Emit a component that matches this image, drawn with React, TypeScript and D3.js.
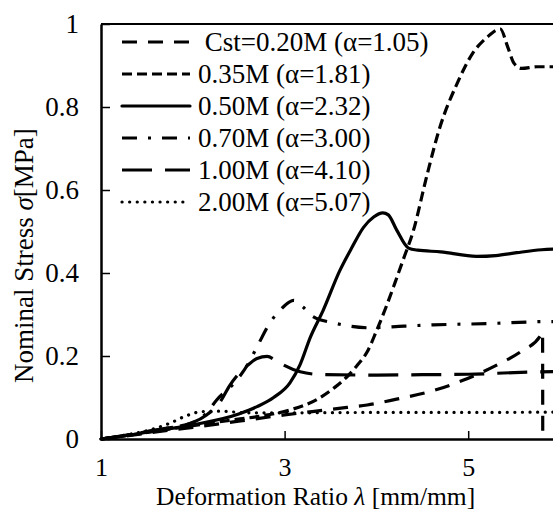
import React, { useRef, useEffect } from "react";
import * as d3 from "d3";

// nominal stress [MPa] vs deformation ratio, one list of [λ, σ] per concentration
const c020 = [[1, 0], [1.3, 0.008], [1.6, 0.017], [2, 0.028], [2.5, 0.043], [3.0, 0.058], [3.3, 0.066], [3.68, 0.076], [3.9, 0.082], [4.22, 0.096], [4.58, 0.114], [4.95, 0.142], [5.31, 0.178], [5.57, 0.21], [5.79, 0.25], [5.81, 0.258], [5.812, 0]];
const c035 = [[1, 0], [1.3, 0.009], [1.6, 0.019], [2, 0.032], [2.4, 0.045], [2.7, 0.054], [3.06, 0.07], [3.35, 0.095], [3.55, 0.125], [3.68, 0.15], [3.8, 0.18], [3.9, 0.21], [4.0, 0.26], [4.1, 0.315], [4.2, 0.375], [4.3, 0.437], [4.4, 0.5], [4.55, 0.635], [4.69, 0.75], [4.88, 0.857], [5.05, 0.93], [5.2, 0.967], [5.35, 0.988], [5.43, 0.945], [5.5, 0.905], [5.58, 0.893], [5.75, 0.897], [6, 0.897]];
const c050 = [[1, 0], [1.3, 0.009], [1.6, 0.02], [2, 0.034], [2.5, 0.06], [2.7, 0.078], [2.88, 0.1], [3.06, 0.136], [3.17, 0.18], [3.28, 0.245], [3.42, 0.31], [3.6, 0.405], [3.73, 0.46], [3.86, 0.51], [3.97, 0.535], [4.07, 0.545], [4.13, 0.54], [4.22, 0.504], [4.35, 0.46], [4.45, 0.455], [4.7, 0.451], [5.09, 0.44], [5.3, 0.442], [5.53, 0.449], [5.8, 0.456], [6, 0.458]];
const c070 = [[1, 0], [1.3, 0.01], [1.6, 0.022], [2, 0.04], [2.13, 0.058], [2.26, 0.094], [2.48, 0.142], [2.6, 0.18], [2.7, 0.222], [2.84, 0.28], [2.95, 0.31], [3.05, 0.33], [3.1, 0.334], [3.2, 0.318], [3.31, 0.295], [3.53, 0.28], [3.93, 0.268], [4.3, 0.272], [4.62, 0.275], [5.2, 0.278], [5.89, 0.283], [6, 0.283]];
const c100 = [[1, 0], [1.3, 0.01], [1.6, 0.022], [2, 0.04], [2.15, 0.058], [2.3, 0.09], [2.4, 0.128], [2.5, 0.157], [2.6, 0.178], [2.7, 0.194], [2.81, 0.199], [2.9, 0.19], [2.99, 0.178], [3.17, 0.162], [3.42, 0.155], [4, 0.154], [4.5, 0.155], [5, 0.156], [5.5, 0.16], [6, 0.163]];
const c200 = [[1, 0], [1.3, 0.011], [1.5, 0.02], [1.75, 0.038], [1.93, 0.056], [2.1, 0.066], [2.3, 0.067], [2.6, 0.063], [3, 0.063], [4, 0.064], [5, 0.064], [6, 0.065]];

const series = [c020, c035, c050, c070, c100, c200];
const labels = [" Cst=0.20M (α=1.05)", "0.35M (α=1.81)", "0.50M (α=2.32)", "0.70M (α=3.00)", "1.00M (α=4.10)", "2.00M (α=5.07)"];
const xTicks = [1, 3, 5];
const yTicks = [0, 0.2, 0.4, 0.6, 0.8, 1];

const dashes = ["15,11", "10,5", "none", "15,11,3,11", "30,13", "0.1,7.5"];
const caps = ["butt", "butt", "round", "butt", "butt", "round"];

const W = 553;
const H = 511;
const FONT = "'Liberation Serif', 'Times New Roman', serif";

const App = () => {
  const svgRef = useRef(null);

  // x runs to λ=6, which lies a little past the right edge of the picture
  const x = d3.scaleLinear().domain([1, 6]).range([101, 560]);
  const y = d3.scaleLinear().domain([0, 1]).range([439, 24]);

  useEffect(() => {
    const svg = d3.select(svgRef.current);
    svg.selectAll("*").remove();

    // frame top
    svg.append("line")
      .attr("x1", x(1)).attr("x2", x(6))
      .attr("y1", y(1)).attr("y2", y(1))
      .attr("stroke", "#000").attr("stroke-width", 2);

    const line = d3.line()
      .x((d) => x(d[0]))
      .y((d) => y(d[1]))
      .curve(d3.curveMonotoneX);

    svg.selectAll(".curve")
      .data(series)
      .join("path")
      .attr("class", "curve")
      .attr("fill", "none")
      .attr("stroke", "#000")
      .attr("stroke-width", 3.2)
      .attr("stroke-dasharray", (d, i) => dashes[i])
      .attr("stroke-linecap", (d, i) => caps[i])
      .attr("d", (d) => line(d));

    const xAxis = d3.axisBottom(x).tickValues(xTicks).tickSize(-8).tickSizeOuter(0).tickPadding(19).tickFormat(d3.format("d"));
    const yAxis = d3.axisLeft(y).tickValues(yTicks).tickSize(-9).tickSizeOuter(0).tickPadding(22).tickFormat((d) => String(d));

    const gx = svg.append("g").attr("transform", `translate(0,${y(0)})`).call(xAxis);
    const gy = svg.append("g").attr("transform", `translate(${x(1)},0)`).call(yAxis);

    [gx, gy].forEach((g) => {
      g.select(".domain").attr("stroke", "#000").attr("stroke-width", 2.5);
      g.selectAll(".tick line").attr("stroke", "#000").attr("stroke-width", 1.5);
      g.selectAll(".tick text")
        .attr("fill", "#000")
        .style("font-family", FONT)
        .style("font-size", "27px");
    });
    gx.selectAll(".tick text").style("font-size", "26px");

    // legend
    const lg = svg.append("g");
    labels.forEach((lab, i) => {
      const cy = 42 + i * 32;
      lg.append("line")
        .attr("x1", 122).attr("x2", 190)
        .attr("y1", cy).attr("y2", cy)
        .attr("stroke", "#000").attr("stroke-width", 3.2)
        .attr("stroke-dasharray", dashes[i])
        .attr("stroke-linecap", caps[i]);
      lg.append("text")
        .attr("x", 198).attr("y", cy + 9)
        .style("font-family", FONT).style("font-size", "27px")
        .style("white-space", "pre")
        .text(lab);
    });

    // axis titles
    const xt = svg.append("text")
      .attr("x", 156).attr("y", 505)
      .style("font-family", FONT).style("font-size", "25.5px");
    xt.append("tspan").text("Deformation Ratio ");
    xt.append("tspan").style("font-style", "italic").text("λ");
    xt.append("tspan").text(" [mm/mm]");

    const yt = svg.append("text")
      .attr("transform", "rotate(-90)")
      .attr("x", -383).attr("y", 33)
      .style("font-family", FONT).style("font-size", "27px");
    yt.append("tspan").text("Nominal Stress ");
    yt.append("tspan").style("font-style", "italic").text("σ");
    yt.append("tspan").text("[MPa]");
  }, []);

  return (
    <svg
      ref={svgRef}
      width={W}
      height={H}
      style={{ position: "absolute", left: 0, top: 0, background: "#fff" }}
    />
  );
};

export default App;
